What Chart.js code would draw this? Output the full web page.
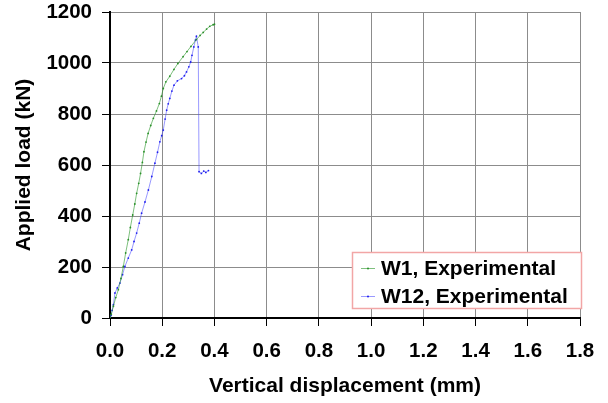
<!DOCTYPE html>
<html>
<head>
<meta charset="utf-8">
<script src="https://cdn.jsdelivr.net/npm/chart.js@4.4.1/dist/chart.umd.min.js"></script>
<style>
  html, body { margin: 0; padding: 0; background: #ffffff; }
  #wrap { width: 608px; height: 403px; position: relative; }
</style>
</head>
<body>
<div id="wrap"><canvas id="c" width="608" height="403"></canvas></div>
<script>
// ---- data ----
const seriesNames = ['W1, Experimental', 'W12, Experimental'];

const w1Disp = [0, 0.005, 0.013, 0.022, 0.032, 0.042, 0.051, 0.060, 0.070, 0.078, 0.087, 0.095, 0.102, 0.110, 0.117, 0.124, 0.130, 0.138, 0.146, 0.156, 0.166, 0.178, 0.189, 0.197, 0.204, 0.214, 0.229, 0.245, 0.260, 0.280, 0.295, 0.310, 0.331, 0.345, 0.357, 0.370, 0.382, 0.395, 0.400];
const w1Load = [0, 15, 46, 80, 111, 155, 202, 255, 307, 355, 404, 447, 489, 528, 567, 610, 652, 690, 724, 755, 783, 812, 841, 870, 900, 926, 948, 975, 998, 1025, 1045, 1065, 1092, 1108, 1120, 1133, 1144, 1150, 1152];

const w12Disp = [0, 0.004, 0.008, 0.013, 0.019, 0.028, 0.038, 0.048, 0.057, 0.070, 0.083, 0.092, 0.102, 0.112, 0.121, 0.134, 0.147, 0.160, 0.172, 0.182, 0.191, 0.198, 0.204, 0.211, 0.217, 0.223, 0.229, 0.237, 0.245, 0.258, 0.274, 0.285, 0.293, 0.302, 0.309, 0.314, 0.321, 0.327, 0.331, 0.338, 0.341, 0.350, 0.359, 0.367, 0.377];
const w12Load = [0, 10, 30, 52, 98, 118, 137, 170, 202, 235, 267, 300, 333, 372, 411, 455, 502, 555, 607, 650, 691, 715, 737, 780, 815, 840, 861, 890, 913, 930, 939, 950, 965, 985, 1004, 1030, 1063, 1090, 1105, 1063, 574, 567, 576, 571, 578];

const xTickLabels = ['0.0', '0.2', '0.4', '0.6', '0.8', '1.0', '1.2', '1.4', '1.6', '1.8'];
const yTickLabels = ['0', '200', '400', '600', '800', '1000', '1200'];
const xTitle = 'Vertical displacement (mm)';
const yTitle = 'Applied load (kN)';

// ---- styles ----
const lineColors = ['rgba(40,150,40,0.6)', 'rgba(70,70,255,0.55)'];
const pointColors = ['#2a8f2a', '#2020ee'];
const FONT = 'Arial, "Liberation Sans", sans-serif';

function toPoints(xs, ys) { return xs.map((x, i) => ({ x: x, y: ys[i] })); }

const legendBox = {
  id: 'legendBox',
  afterDraw(chart) {
    const ctx = chart.ctx;
    ctx.save();
    const bx = 352.5, by = 252.5, bw = 229, bh = 56;
    ctx.fillStyle = '#ffffff';
    ctx.fillRect(bx, by, bw, bh);
    ctx.strokeStyle = '#f2a6a6';
    ctx.lineWidth = 1.5;
    ctx.strokeRect(bx, by, bw, bh);
    const rows = [268, 296];
    chart.data.datasets.forEach((ds, i) => {
      const y = rows[i];
      ctx.strokeStyle = lineColors[i];
      ctx.lineWidth = 1;
      ctx.beginPath();
      ctx.moveTo(361, y + 0.5);
      ctx.lineTo(375, y + 0.5);
      ctx.stroke();
      ctx.fillStyle = pointColors[i];
      ctx.beginPath();
      ctx.arc(368, y + 0.5, 1, 0, Math.PI * 2);
      ctx.fill();
      ctx.fillStyle = '#000000';
      ctx.font = 'bold 21px ' + FONT;
      ctx.textBaseline = 'middle';
      ctx.textAlign = 'left';
      ctx.fillText(ds.label, 381, y + 1);
    });
    ctx.restore();
  }
};

new Chart(document.getElementById('c'), {
  type: 'line',
  data: {
    datasets: [
      {
        label: seriesNames[0],
        data: toPoints(w1Disp, w1Load),
        borderColor: lineColors[0],
        borderWidth: 1,
        pointRadius: 0.9,
        pointBackgroundColor: pointColors[0],
        pointBorderWidth: 0,
        tension: 0,
        fill: false
      },
      {
        label: seriesNames[1],
        data: toPoints(w12Disp, w12Load),
        borderColor: lineColors[1],
        borderWidth: 1,
        pointRadius: 0.9,
        pointBackgroundColor: pointColors[1],
        pointBorderWidth: 0,
        tension: 0,
        fill: false
      }
    ]
  },
  options: {
    responsive: false,
    animation: false,
    layout: { padding: { left: 0, right: 28, top: 12, bottom: 0 } },
    plugins: {
      legend: { display: false },
      tooltip: { enabled: false }
    },
    scales: {
      x: {
        type: 'linear',
        min: 0,
        max: 1.8,
        afterFit(scale) { scale.height = 85; scale.paddingLeft = 0; scale.paddingRight = 0; },
        afterBuildTicks(scale) {
          scale.ticks = xTickLabels.map(t => ({ value: parseFloat(t) }));
        },
        ticks: {
          color: '#000000',
          font: { family: FONT, size: 20.5, weight: 'bold' },
          padding: 13,
          maxRotation: 0,
          autoSkip: false,
          callback: (v, i) => xTickLabels[i]
        },
        grid: { color: '#8c8c8c', lineWidth: 1, tickColor: '#000000', tickLength: 8, drawTicks: true },
        border: { color: '#000000', width: 2 },
        title: {
          display: true,
          text: xTitle,
          color: '#000000',
          font: { family: FONT, size: 21, weight: 'bold' },
          padding: { top: 0, bottom: 4 }
        }
      },
      y: {
        type: 'linear',
        min: 0,
        max: 1200,
        afterFit(scale) { scale.width = 110; scale.paddingTop = 0; scale.paddingBottom = 0; },
        afterBuildTicks(scale) {
          scale.ticks = yTickLabels.map(t => ({ value: parseFloat(t) }));
        },
        ticks: {
          color: '#000000',
          font: { family: FONT, size: 20.5, weight: 'bold' },
          padding: 10,
          autoSkip: false,
          callback: (v, i) => yTickLabels[i]
        },
        grid: { color: '#8c8c8c', lineWidth: 1, tickColor: '#000000', tickLength: 8, drawTicks: true },
        border: { color: '#000000', width: 2 },
        title: {
          display: true,
          text: yTitle,
          color: '#000000',
          font: { family: FONT, size: 21, weight: 'bold' },
          padding: { top: 12, bottom: 0 }
        }
      }
    }
  },
  plugins: [legendBox]
});
</script>
</body>
</html>
